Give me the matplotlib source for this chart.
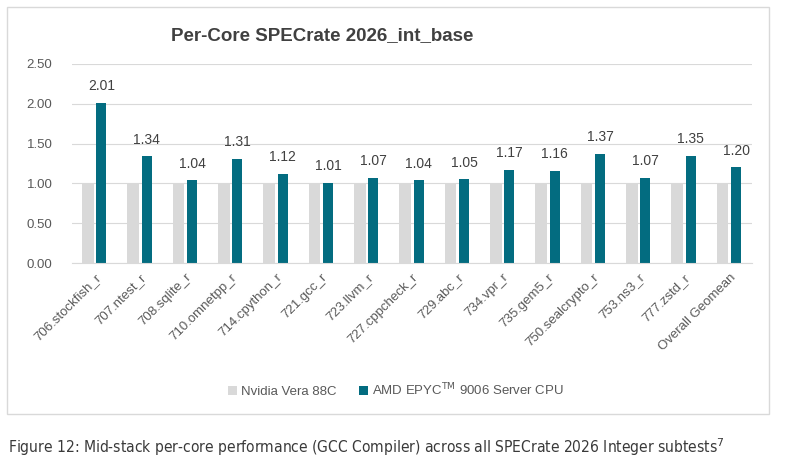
import matplotlib

matplotlib.use("agg")
import matplotlib.pyplot as plt
import numpy as np
from matplotlib.patches import Rectangle

plt.rcParams["font.family"] = ["Liberation Sans", "DejaVu Sans"]

tests = [
    "706.stockfish_r", "707.ntest_r", "708.sqlite_r", "710.omnetpp_r",
    "714.cpython_r", "721.gcc_r", "723.llvm_r", "727.cppcheck_r",
    "729.abc_r", "734.vpr_r", "735.gem5_r", "750.sealcrypto_r",
    "753.ns3_r", "777.zstd_r", "Overall Geomean",
]
vera = [1.00] * 15
epyc = [2.01, 1.34, 1.04, 1.31, 1.12, 1.01, 1.07, 1.04, 1.05, 1.17, 1.16, 1.37, 1.07, 1.35, 1.20]
yticks = [0.0, 0.5, 1.0, 1.5, 2.0, 2.5]

grey = "#d9d9d9"
teal = "#036c80"
txt = "#595959"

fig = plt.figure(figsize=(8, 4.75), dpi=100)
ax = fig.add_axes([72 / 800, 1 - 263 / 475, 680 / 800, 199 / 475])

x = np.arange(len(tests))
w = 0.26
ax.bar(x - w / 2 - 0.02, vera, w, color=grey, label="Nvidia Vera 88C", zorder=2)
bars = ax.bar(x + w / 2 + 0.02, epyc, w * 0.85, color=teal,
              label="AMD EPYC$^{\\mathrm{TM}}$ 9006 Server CPU", zorder=2)
for b, v in zip(bars, epyc):
    ax.text(b.get_x() + b.get_width() / 2, v + 0.12, f"{v:.2f}", ha="center",
            va="bottom", fontsize=10, color="#404040")

ax.set_xlim(-0.5, len(tests) - 0.5)
ax.set_ylim(0, 2.5)
ax.set_yticks(yticks)
ax.set_yticklabels([f"{t:.2f}" for t in yticks])
ax.yaxis.grid(True, color="#d9d9d9", linewidth=0.8, zorder=0)
ax.set_xticks(x)
ax.set_xticklabels(tests, rotation=45, ha="right", rotation_mode="anchor")
ax.tick_params(axis="both", length=0, colors=txt, labelsize=9.5)
ax.tick_params(axis="y", pad=14)
ax.tick_params(axis="x", pad=6)
for s in ["top", "right", "left"]:
    ax.spines[s].set_visible(False)
ax.spines["bottom"].set_color("#d9d9d9")

fig.text(322 / 800, 1 - 36 / 475, "Per-Core SPECrate 2026_int_base", ha="center",
         va="center", fontsize=13.5, fontweight="bold", color="#404040")

leg = fig.legend(loc="center", bbox_to_anchor=(396 / 800, 1 - 390 / 475), ncol=2,
                 frameon=False, fontsize=9.5, handlelength=0.7, handleheight=0.7,
                 handletextpad=0.3, columnspacing=1.7)
for t in leg.get_texts():
    t.set_color(txt)

fig.patches.append(Rectangle((7 / 800, 1 - 414 / 475), 762 / 800, 407 / 475,
                             transform=fig.transFigure, fill=False,
                             edgecolor="#d9d9d9", linewidth=1))

fig.text(8 / 800, 1 - 447 / 475,
         "Figure 12: Mid-stack per-core performance (GCC Compiler) across all SPECrate 2026 Integer subtests$^{7}$",
         ha="left", va="center", fontsize=11.2, color="#3a3a3a",
         family="DejaVu Sans", fontstretch="condensed")

fig.savefig("out.png", dpi=100)
